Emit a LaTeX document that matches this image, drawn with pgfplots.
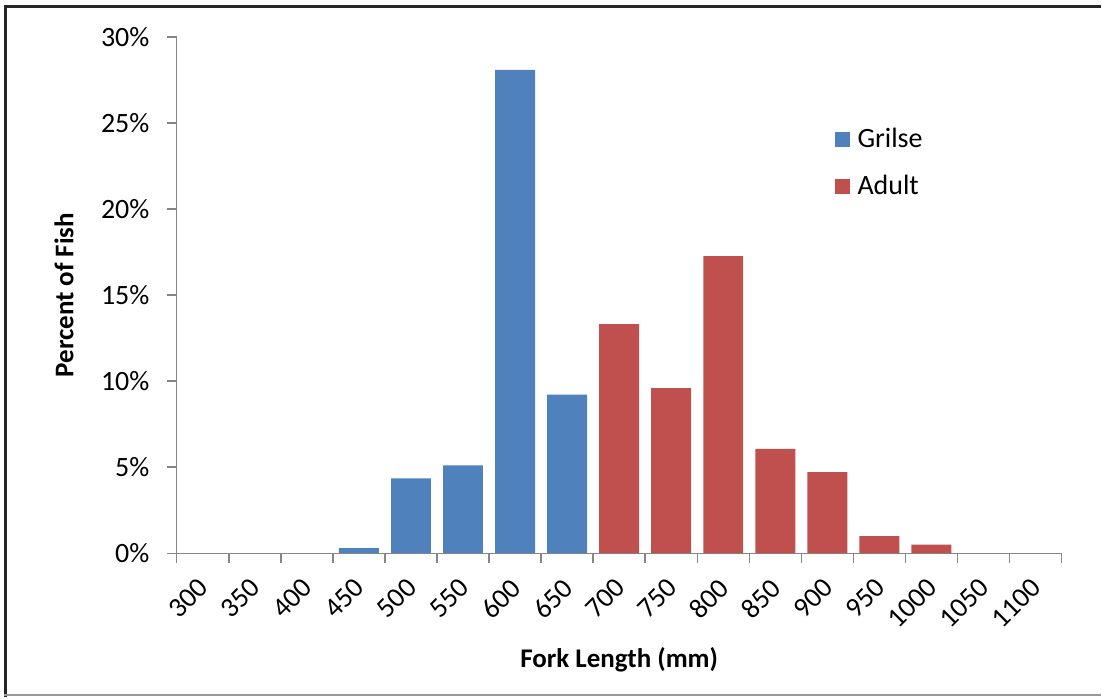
\documentclass[border=0pt]{standalone}
\usepackage{pgfplots}
\pgfplotsset{compat=1.18}
\usepackage{fontspec}
\setmainfont{Carlito}
\definecolor{grilse}{HTML}{4F81BD}
\definecolor{adult}{HTML}{C0504D}
\definecolor{axgray}{HTML}{868686}
\begin{document}
\begin{tikzpicture}
\path (0,0) rectangle (551pt,349pt);
\draw[line width=1.5pt, black!85] (2pt,345.6pt) -- (551pt,345.6pt);
\draw[line width=1.5pt, black!85] (2.75pt,0pt) -- (2.75pt,346.35pt);
\draw[line width=1pt, black!40] (2pt,0.9pt) -- (551pt,0.9pt);
\begin{axis}[
  at={(88.5pt,72pt)}, anchor=south west,
  scale only axis,
  width=443pt, height=258.5pt,
  xmin=-0.5, xmax=16.5,
  ymin=0, ymax=30,
  axis x line*=bottom, axis y line*=left,
  axis line style={axgray, line width=0.7pt},
  tick align=outside,
  major tick length=5pt, minor tick length=5pt,
  tick style={axgray, line width=0.7pt},
  major x tick style={draw=none},
  xtick={0,...,16},
  minor xtick={-0.5,0.5,...,16.5},
  xticklabels={300,350,400,450,500,550,600,650,700,750,800,850,900,950,1000,1050,1100},
  xticklabel style={yshift=-10pt, xshift=0.5pt, rotate=45, anchor=east, inner sep=0pt, font=\fontsize{14}{16}\selectfont},
  ytick={0,5,...,30},
  yticklabels={0\%,5\%,10\%,15\%,20\%,25\%,30\%},
  yticklabel style={anchor=east, inner sep=0pt, xshift=-8.5pt, font=\fontsize{14}{16}\selectfont},
  xlabel={\textbf{Fork Length (mm)}},
  ylabel={\textbf{Percent of Fish}},
  xlabel style={at={(axis description cs:0.5,-0.207)}, anchor=center, font=\fontsize{13.5}{16}\selectfont},
  ylabel style={at={(axis description cs:-0.1275,0.5)}, anchor=center, font=\fontsize{13.5}{16}\selectfont},
  ybar, bar width=20pt, bar shift=0pt,
  legend style={draw=none, fill=none, at={(rel axis cs:0.743,0.832)}, anchor=north west,
    font=\fontsize{14}{16}\selectfont, row sep=8.2pt, inner sep=0pt},
  legend cell align=left,
  legend image code/.code={\fill[#1] (0pt,-3.75pt) rectangle (7.5pt,3.75pt); \path (0pt,0pt) -- (9.5pt,0pt);},
]
\addplot[fill=grilse, draw=none] coordinates {(3,0.3) (4,4.35) (5,5.1) (6,28.09) (7,9.21)};
\addlegendentry{Grilse}
\addplot[fill=adult, draw=none] coordinates {(8,13.31) (9,9.59) (10,17.27) (11,6.07) (12,4.72) (13,1.0) (14,0.5)};
\addlegendentry{Adult}
\end{axis}
\end{tikzpicture}
\end{document}
